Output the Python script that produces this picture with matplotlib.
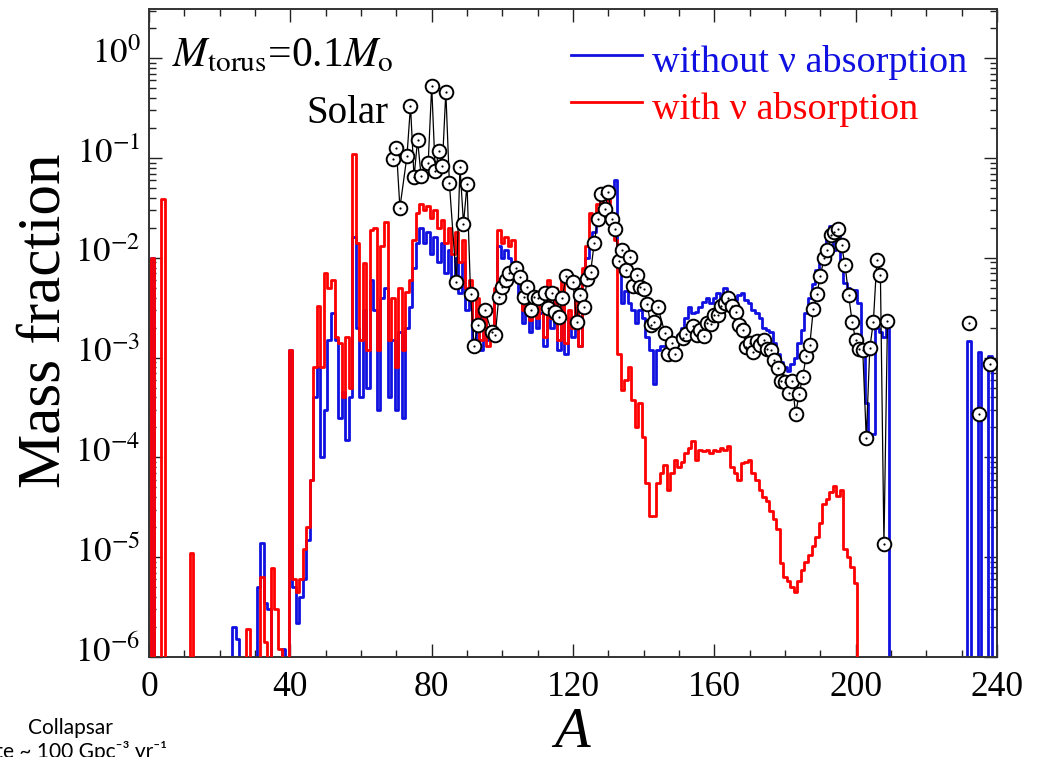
import numpy as np
import matplotlib
matplotlib.use("Agg")
import matplotlib.pyplot as plt
import matplotlib.transforms as mtransforms
from matplotlib.ticker import FixedLocator, FixedFormatter, NullFormatter

plt.rcParams["font.family"] = ["Liberation Serif", "DejaVu Serif"]
plt.rcParams["mathtext.fontset"] = "stix"

# ---- nucleosynthesis yields: mass number -> mass fraction ----
# without neutrino absorption
blue_A = ([1, 24, 25, 31, 32, 33, 34, 38]
          + list(range(40, 210))
          + [232, 235, 238])
blue_X = [1.0e-2, 2.0e-6, 1.5e-6, 5.0e-6, 1.4e-5, 3.5e-6, 3.0e-6, 1.2e-6,
          # 40-59
          1.2e-3, 5.0e-6, 2.2e-6, 4.0e-6, 6.0e-6, 1.5e-5, 6.0e-5, 4.0e-4, 8.0e-4, 1.0e-4,
          3.0e-4, 1.5e-3, 2.8e-3, 1.5e-3, 2.5e-4, 4.5e-4, 1.5e-4, 4.0e-4, 1.6e-2, 2.0e-3,
          # 60-79
          4.0e-4, 3.0e-3, 5.0e-4, 6.0e-3, 3.0e-3, 3.0e-4, 4.0e-3, 5.0e-3, 4.0e-4, 1.5e-3,
          3.0e-4, 1.8e-3, 2.5e-4, 2.0e-3, 3.2e-3, 8.0e-3, 1.4e-2, 2.0e-2, 1.4e-2, 1.8e-2,
          # 80-99
          1.1e-2, 1.6e-2, 9.0e-3, 1.4e-2, 7.0e-3, 1.2e-2, 6.0e-3, 1.0e-2, 4.4e-3, 9.0e-3,
          3.0e-3, 4.0e-3, 1.5e-3, 3.0e-3, 1.2e-3, 2.5e-3, 1.5e-3, 2.0e-3, 4.0e-3, 1.3e-2,
          # 100-119
          1.0e-2, 1.2e-2, 1.0e-2, 9.0e-3, 6.0e-3, 4.0e-3, 2.2e-3, 3.5e-3, 1.8e-3, 3.0e-3,
          2.0e-3, 2.8e-3, 1.3e-3, 4.0e-3, 2.0e-3, 3.5e-3, 1.2e-3, 4.0e-3, 1.1e-3, 2.5e-3,
          # 120-139
          1.6e-3, 3.0e-3, 1.3e-3, 6.0e-3, 1.0e-2, 1.5e-2, 1.8e-2, 2.5e-2, 3.0e-2, 3.5e-2,
          4.2e-2, 4.5e-2, 6.0e-2, 8.0e-3, 3.5e-3, 4.7e-3, 3.5e-3, 3.0e-3, 2.2e-3, 3.0e-3,
          # 140-159
          2.5e-3, 1.6e-3, 1.2e-3, 5.5e-4, 1.2e-3, 1.3e-3, 1.3e-3, 1.4e-3, 1.4e-3, 1.5e-3,
          1.7e-3, 2.0e-3, 2.5e-3, 3.2e-3, 2.8e-3, 2.9e-3, 3.2e-3, 3.6e-3, 4.0e-3, 3.5e-3,
          # 160-179
          4.0e-3, 4.4e-3, 4.0e-3, 5.0e-3, 4.6e-3, 3.2e-3, 3.8e-3, 4.2e-3, 4.4e-3, 3.8e-3,
          3.5e-3, 3.0e-3, 2.8e-3, 2.5e-3, 2.0e-3, 1.9e-3, 1.8e-3, 1.4e-3, 1.1e-3, 9.0e-4,
          # 180-199
          8.0e-4, 7.4e-4, 8.6e-4, 1.0e-3, 1.4e-3, 1.9e-3, 2.8e-3, 4.0e-3, 5.5e-3, 7.5e-3,
          9.5e-3, 1.2e-2, 1.6e-2, 2.1e-2, 1.2e-2, 1.8e-2, 9.5e-3, 5.6e-3, 5.0e-3, 4.8e-3,
          # 200-209
          4.8e-3, 3.5e-3, 1.2e-3, 3.5e-4, 1.7e-4, 1.7e-4, 2.0e-3, 1.8e-3, 1.6e-3, 2.0e-3,
          # actinides
          1.46e-3, 1.13e-3, 1.04e-3]

# with neutrino absorption
red_A = [1, 4, 12, 28, 32, 33, 35, 36, 37] + list(range(40, 201))
red_X = [1.0e-2, 3.9e-2, 1.1e-5, 1.9e-6, 6.4e-6, 1.4e-6, 7.8e-6, 3.0e-6, 1.2e-6,
         # 40-59
         1.2e-3, 6.0e-6, 4.5e-6, 6.0e-6, 1.2e-5, 2.0e-5, 6.0e-5, 8.0e-4, 3.3e-3, 8.0e-4,
         7.0e-3, 5.0e-3, 6.0e-3, 1.6e-3, 1.4e-3, 4.0e-4, 1.6e-3, 5.0e-4, 1.1e-1, 1.4e-2,
         # 60-79
         1.5e-3, 8.9e-3, 1.2e-3, 1.9e-2, 2.0e-2, 1.2e-3, 1.3e-2, 2.3e-2, 1.5e-3, 4.0e-3,
         8.0e-4, 5.0e-3, 1.2e-3, 4.5e-3, 6.0e-3, 1.5e-2, 2.8e-2, 3.5e-2, 3.0e-2, 3.3e-2,
         # 80-99
         2.5e-2, 3.0e-2, 2.0e-2, 2.4e-2, 1.4e-2, 2.0e-2, 1.1e-2, 1.8e-2, 9.0e-3, 1.5e-2,
         5.0e-3, 6.0e-3, 2.4e-3, 4.0e-3, 1.5e-3, 3.0e-3, 1.3e-3, 2.0e-3, 5.0e-3, 1.9e-2,
         # 100-119
         1.4e-2, 1.6e-2, 1.3e-2, 1.5e-2, 8.0e-3, 6.0e-3, 3.0e-3, 5.0e-3, 2.4e-3, 4.0e-3,
         2.5e-3, 3.5e-3, 1.6e-3, 6.0e-3, 2.5e-3, 5.0e-3, 1.5e-3, 7.0e-3, 1.4e-3, 3.0e-3,
         # 120-139
         2.0e-3, 4.0e-3, 1.3e-3, 8.0e-3, 1.3e-2, 2.8e-2, 2.5e-2, 3.5e-2, 4.4e-2, 3.5e-2,
         4.0e-2, 2.5e-2, 1.5e-2, 1.1e-3, 4.7e-4, 6.0e-4, 8.0e-4, 3.8e-4, 2.0e-4, 3.5e-4,
         # 140-159
         1.6e-4, 5.5e-5, 2.6e-5, 2.6e-5, 5.5e-5, 7.0e-5, 8.4e-5, 4.7e-5, 7.0e-5, 9.5e-5,
         8.0e-5, 9.0e-5, 1.1e-4, 1.25e-4, 1.45e-4, 9.5e-5, 1.2e-4, 1.15e-4, 1.2e-4, 1.1e-4,
         # 160-179
         1.2e-4, 1.15e-4, 1.25e-4, 1.2e-4, 1.3e-4, 8.0e-5, 7.0e-5, 6.0e-5, 8.8e-5, 9.0e-5,
         9.5e-5, 7.0e-5, 6.0e-5, 4.7e-5, 4.0e-5, 3.7e-5, 2.9e-5, 2.4e-5, 1.9e-5, 8.7e-6,
         # 180-200
         6.3e-6, 5.8e-6, 5.0e-6, 4.5e-6, 5.8e-6, 7.5e-6, 9.0e-6, 1.05e-5, 1.3e-5, 1.6e-5,
         2.2e-5, 3.4e-5, 3.8e-5, 4.5e-5, 5.2e-5, 4.1e-5, 4.7e-5, 1.2e-5, 1.0e-5, 8.0e-6,
         5.5e-6]

# solar r-process pattern (A <= 209, connected)
solar_A = [69, 70, 71, 73, 74, 75, 76, 77, 79, 80, 81, 82, 83, 84, 85, 87, 88, 89, 90,
           91, 92, 93, 95, 97, 98, 99, 100, 101, 102, 104, 105, 106, 107, 108, 109,
           110, 112, 113, 114, 115, 116, 117, 118, 120, 121, 122, 123, 124, 125, 126,
           127, 128, 129, 130, 131, 132, 133, 134, 135, 136, 137, 138, 139, 140, 141,
           142, 143, 144, 146, 147, 148, 149, 151, 152, 154, 155, 156, 157, 158, 159,
           160, 161, 162, 163, 164, 165, 166, 167, 168, 169, 170, 171, 172, 173, 174,
           175, 176, 177, 178, 179, 180, 181, 182, 183, 184, 185, 186, 187, 188, 189,
           190, 191, 192, 193, 194, 195, 196, 197, 198, 199, 200, 201, 202, 203, 204,
           205, 206, 207, 208, 209]
solar_X = [9.7e-2, 1.25e-1, 3.18e-2, 1.05e-1, 3.35e-1, 6.4e-2, 1.52e-1, 6.6e-2, 8.85e-2, 5.27e-1,
           7.4e-2, 1.17e-1, 8.3e-2, 4.62e-1, 5.65e-2, 5.7e-3, 8.2e-2, 2.2e-2, 5.45e-2,
           4.3e-3, 1.3e-3, 2.1e-3, 3.0e-3, 1.8e-3, 1.68e-3, 4.06e-3, 5.1e-3, 6.0e-3, 7.0e-3,
           8.0e-3, 6.45e-3, 4.06e-3, 5.1e-3, 3.0e-3, 4.06e-3,
           3.92e-3, 4.46e-3, 3.15e-3, 4.46e-3, 2.87e-3, 2.56e-3, 3.97e-3, 6.55e-3, 5.74e-3,
           2.28e-3, 4.23e-3, 3.23e-3, 6.21e-3, 7.24e-3, 1.41e-2,
           2.43e-2, 4.35e-2, 3.06e-2, 4.59e-2, 2.43e-2, 1.94e-2, 9.27e-3, 1.19e-2, 7.53e-3,
           1.02e-2, 5.2e-3, 6.71e-3, 5.05e-3, 4.9e-3, 3.43e-3,
           2.11e-3, 2.28e-3, 3.23e-3, 1.77e-3, 1.1e-3, 1.4e-3, 1.08e-3, 1.56e-3, 1.71e-3,
           2.07e-3, 1.68e-3, 1.91e-3, 1.64e-3, 2.23e-3, 2.15e-3,
           2.66e-3, 2.66e-3, 3.28e-3, 3.54e-3, 3.92e-3, 3.28e-3, 2.87e-3, 2.11e-3, 1.91e-3,
           1.28e-3, 1.4e-3, 1.14e-3, 1.46e-3, 1.33e-3, 1.5e-3,
           1.21e-3, 1.19e-3, 9.4e-4, 7.8e-4, 5.8e-4, 5.7e-4, 4.4e-4, 5.9e-4, 2.7e-4, 4.36e-4,
           6.4e-4, 1.04e-3, 1.33e-3, 3.04e-3, 4.32e-3,
           6.55e-3, 9.86e-3, 1.21e-2, 1.69e-2, 1.82e-2, 1.94e-2, 1.34e-2, 8.45e-3, 4.23e-3,
           2.28e-3, 1.5e-3, 1.21e-3, 1.19e-3, 1.55e-4, 1.25e-3,
           2.28e-3, 9.48e-3, 6.71e-3, 1.37e-5, 2.33e-3]
# solar actinides (isolated points)
actinide_A = [232, 235, 238]
actinide_X = [2.2e-3, 2.75e-4, 8.7e-4]

x_ticks = [0, 40, 80, 120, 160, 200, 240]
y_ticks = [1e-6, 1e-5, 1e-4, 1e-3, 1e-2, 1e-1, 1e0]
y_ticklabels = [r"$10^{-6}$", r"$10^{-5}$", r"$10^{-4}$", r"$10^{-3}$",
                r"$10^{-2}$", r"$10^{-1}$", r"$10^{0}$"]

# ---- full histograms on the mass-number grid ----
A_grid = np.arange(0, 242)
FLOOR = 1e-12  # species not produced sit far below the axis


def on_grid(a_list, x_list):
    y = np.full(A_grid.shape, FLOOR)
    y[np.asarray(a_list)] = np.asarray(x_list)
    return y


blue_y = on_grid(blue_A, blue_X)
red_y = on_grid(red_A, red_X)

fig = plt.figure(figsize=(10.43, 7.57), dpi=100)
ax = fig.add_axes([0.1429, 0.1321, 0.8130, 0.8560])

ax.step(A_grid, blue_y, where="mid", color="#1010e0", lw=2.0, zorder=2)
ax.step(A_grid, red_y, where="mid", color="#ff0000", lw=2.0, zorder=3)
ax.plot(solar_A, solar_X, color="black", lw=0.9, zorder=4)
for a_pts, x_pts in [(solar_A, solar_X), (actinide_A, actinide_X)]:
    ax.plot(a_pts, x_pts, ls="none", marker="o", ms=9.8, mfc="white",
            mec="black", mew=1.4, zorder=5)
    ax.plot(a_pts, x_pts, ls="none", marker="o", ms=1.6, mfc="black",
            mec="black", mew=0, zorder=6)

ax.set_yscale("log")
ax.set_xlim(0, 240)
ax.set_ylim(1e-6, 10 ** 0.494)

ax.xaxis.set_major_locator(FixedLocator(x_ticks))
ax.xaxis.set_minor_locator(FixedLocator(np.arange(0, 241, 10)))
ax.yaxis.set_major_locator(FixedLocator(y_ticks))
ax.yaxis.set_major_formatter(FixedFormatter(y_ticklabels))
minor_y = [m * 10.0 ** e for e in range(-6, 1) for m in range(2, 10)]
ax.yaxis.set_minor_locator(FixedLocator(minor_y))
ax.yaxis.set_minor_formatter(NullFormatter())

ax.tick_params(which="both", direction="in", top=True, right=True,
               color="#222222", width=1.0)
ax.tick_params(which="major", length=9.5)
ax.tick_params(which="minor", length=4.8)
ax.tick_params(axis="x", which="major", labelsize=25.5, pad=10)
ax.tick_params(axis="y", which="major", labelsize=25, pad=6)
for sp in ax.spines.values():
    sp.set_color("#333333")
    sp.set_linewidth(1.4)

# decade labels sit a little above their ticks
lift = mtransforms.ScaledTranslation(0, 8 / 100, fig.dpi_scale_trans)
for lab in ax.get_yticklabels():
    lab.set_transform(lab.get_transform() + lift)

fig.text(45 / 1043, 1 - 321 / 757, "Mass fraction", rotation=90,
         ha="center", va="center", fontsize=44)
fig.text(572 / 1043, 1 - 733 / 757, "A", style="italic",
         ha="center", va="center", fontsize=42)

# annotations
ax.text(0.027, 0.928, r"$M_{\mathrm{torus}}$=0.1$M_{\mathrm{o}}$",
        transform=ax.transAxes, fontsize=30, ha="left", va="center")
ax.text(0.185, 0.839, "Solar", transform=ax.transAxes, fontsize=28,
        ha="left", va="center")


# legend drawn by hand
def px_to_axes(px, py):
    return (px - 149) / 848.0, (657 - py) / 648.0


for py, col, label in [(55, "#1010e0", "without \u03bd absorption"),
                       (102, "#ff0000", "with \u03bd absorption")]:
    x0, y0 = px_to_axes(571, py)
    x1, _ = px_to_axes(642, py)
    ax.plot([x0, x1], [y0, y0], color=col, lw=2.0, transform=ax.transAxes,
            clip_on=False)
    tx, ty = px_to_axes(652, py + 7)
    ax.text(tx, ty, label, color=col, fontsize=27.5, ha="left", va="center",
            transform=ax.transAxes)

# caption at the lower left
fig.text(70 / 1043, 1 - 728 / 757, "Collapsar", family=["Lato", "DejaVu Sans"],
         fontsize=15, ha="center", va="center")
fig.text(70 / 1043, 1 - 752 / 757, "Rate ~ 100 Gpc\u207b\u00b3 yr\u207b\u00b9",
         family=["Lato", "DejaVu Sans"], fontsize=15, ha="center", va="center")

fig.savefig("out.png", dpi=100)
